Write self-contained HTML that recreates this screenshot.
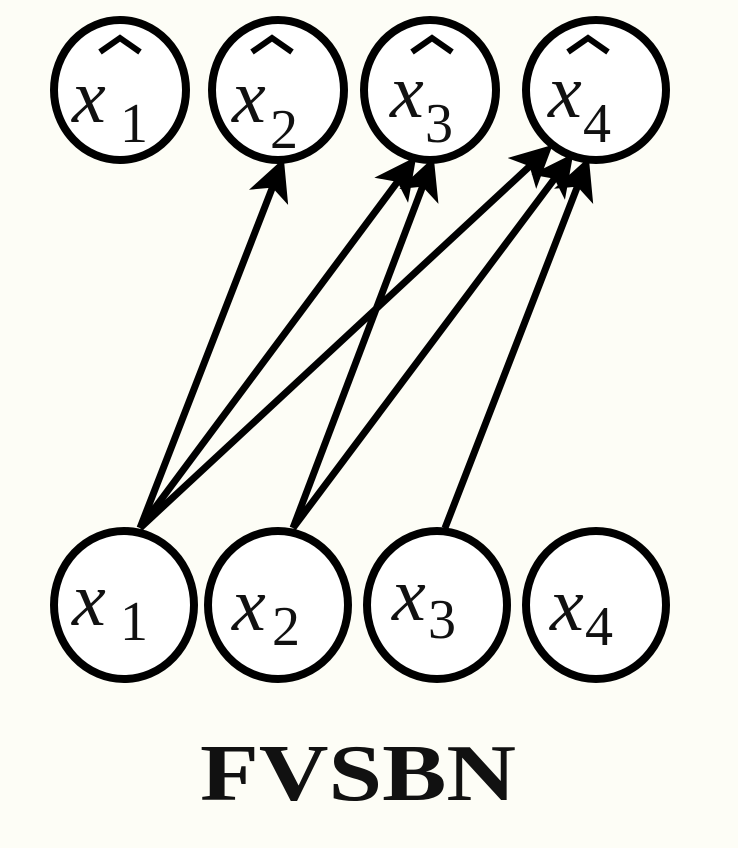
<!DOCTYPE html>
<html><head><style>
html,body{margin:0;padding:0;background:#fdfdf6;}
svg{display:block;}
</style></head><body>
<svg width="738" height="848" viewBox="0 0 738 848" xmlns="http://www.w3.org/2000/svg">
<defs>
<marker id="a" markerWidth="6" markerHeight="6" refX="4.5" refY="3" orient="auto" markerUnits="strokeWidth">
<path d="M0,0 L6,3 L0,6 L1.5,3 z" fill="#000"/>
</marker>
</defs>
<rect width="738" height="848" fill="#fdfdf6"/>
<g fill="#fff" stroke="#000" stroke-width="8">
<ellipse cx="120" cy="90" rx="66" ry="70"/>
<ellipse cx="278" cy="90" rx="66" ry="70"/>
<ellipse cx="430" cy="90" rx="66" ry="70"/>
<ellipse cx="596" cy="90" rx="70" ry="70"/>
<ellipse cx="124" cy="605" rx="70" ry="74"/>
<ellipse cx="278" cy="605" rx="70" ry="74"/>
<ellipse cx="437" cy="605" rx="70" ry="74"/>
<ellipse cx="596" cy="605" rx="70" ry="74"/>
</g>
<g stroke="#000" stroke-width="7" marker-end="url(#a)" fill="none">
<line x1="140" y1="528" x2="280" y2="168"/>
<line x1="140" y1="528" x2="410" y2="165"/>
<line x1="140" y1="528" x2="545" y2="152"/>
<line x1="293" y1="528" x2="430" y2="167"/>
<line x1="293" y1="528" x2="567" y2="162"/>
<line x1="445" y1="528" x2="585" y2="167"/>
</g>
<g font-family="Liberation Serif, serif" fill="#111">
<g font-size="76" font-style="italic">
<text x="72" y="122">x</text><text x="232" y="122">x</text><text x="390" y="117">x</text><text x="548" y="117">x</text>
<text x="72" y="625">x</text><text x="232" y="630">x</text><text x="392" y="620">x</text><text x="550" y="630">x</text>
</g>
<g font-size="56">
<text x="120" y="142">1</text><text x="270" y="148">2</text><text x="425" y="142">3</text><text x="583" y="142">4</text>
<text x="120" y="640">1</text><text x="272" y="645">2</text><text x="428" y="638">3</text><text x="585" y="645">4</text>
</g>
<g stroke="#000" stroke-width="6" fill="none">
<path d="M100,52 L120,38 L140,52"/><path d="M252,52 L272,38 L292,52"/><path d="M412,52 L432,38 L452,52"/><path d="M568,52 L588,38 L608,52"/>
</g>
<text x="200" y="800" font-size="80" font-weight="bold" textLength="316" lengthAdjust="spacingAndGlyphs">FVSBN</text>
</g>
</svg>
</body></html>
